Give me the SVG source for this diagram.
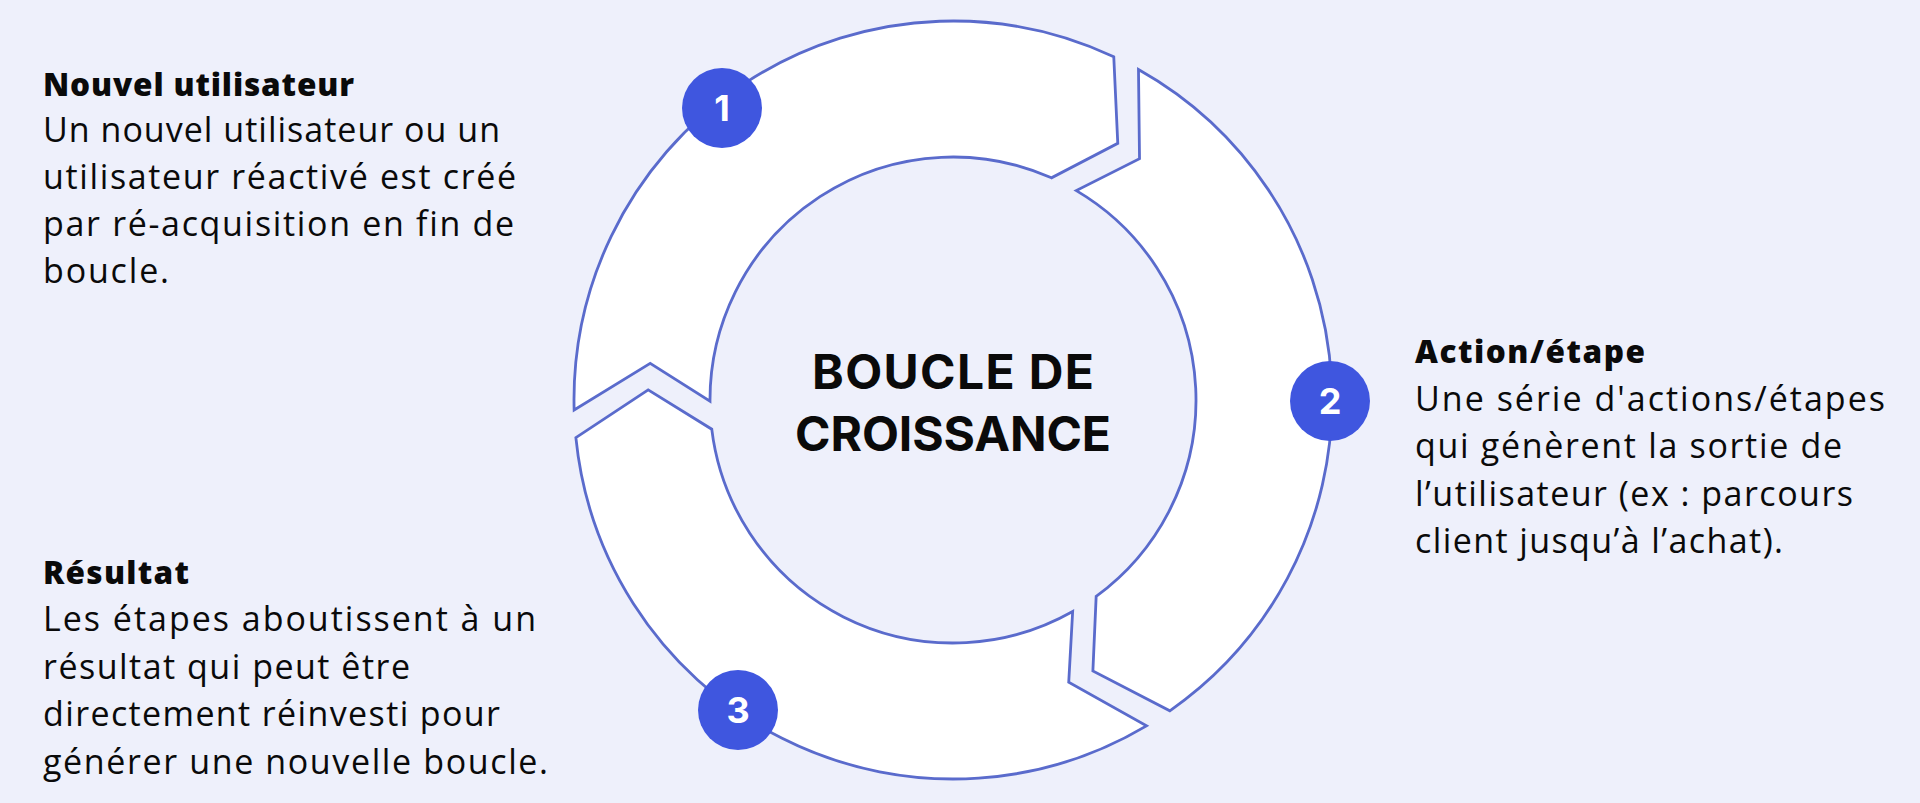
<svg xmlns="http://www.w3.org/2000/svg" width="1920" height="803" viewBox="0 0 1920 803">
  <style>
    .bg { fill: #eef0fb; }
    .seg { fill: #ffffff; stroke: #5a6bcc; stroke-width: 2.8; stroke-linejoin: miter; }
    .badge { fill: #3f56df; }
    .num { font-family: Inter, "Open Sans", "DejaVu Sans", sans-serif; font-weight: 700; font-size: 36px; fill: #ffffff; text-anchor: middle; }
    .title { font-family: Inter, "Open Sans", "DejaVu Sans", sans-serif; font-weight: 700; font-size: 48px; fill: #0a0a0a; text-anchor: middle; }
    .head { font-family: "Open Sans", "Noto Sans", "DejaVu Sans", sans-serif; font-weight: 800; font-size: 31.5px; fill: #0a0a0a; font-variant-ligatures: none; }
    .body { font-family: "Open Sans", "Noto Sans", "DejaVu Sans", sans-serif; font-weight: 400; font-size: 34px; fill: #0a0a0a; font-variant-ligatures: none; }
  </style>
  <rect class="bg" x="0" y="0" width="1920" height="803"/>

  <g id="connectors">
    <path id="arrow-1" class="seg" d="M574.13,409.92 A379,379 0 0 1 1113.77,56.79 L1117.77,143.34 L1051.45,177.84 A243,243 0 0 0 710.00,401.27 L650.21,363.36 Z"/>
    <path id="arrow-2" class="seg" d="M1138.48,69.49 A379,379 0 0 1 1169.84,710.84 L1092.89,671.03 L1096.17,596.34 A243,243 0 0 0 1076.33,190.62 L1139.52,158.68 Z"/>
    <path id="arrow-3" class="seg" d="M1146.50,725.88 A379,379 0 0 1 575.87,437.64 L648.17,389.89 L711.76,429.19 A243,243 0 0 0 1072.66,611.50 L1068.73,682.19 Z"/>
  </g>

  <g id="center-label">
    <text class="title" x="953" y="389" textLength="282">BOUCLE DE</text>
    <text class="title" x="953" y="451" textLength="316">CROISSANCE</text>
  </g>

  <g id="node-1">
    <circle class="badge" cx="722" cy="108" r="40"/>
    <text class="num" x="722" y="121">1</text>
    <text class="head" x="43" y="96" textLength="311">Nouvel utilisateur</text>
    <text class="body" x="43" y="142" textLength="457">Un nouvel utilisateur ou un</text>
    <text class="body" x="43" y="189" textLength="473">utilisateur réactivé est créé</text>
    <text class="body" x="43" y="236" textLength="471">par ré-acquisition en fin de</text>
    <text class="body" x="43" y="283" textLength="126">boucle.</text>
  </g>

  <g id="node-2">
    <circle class="badge" cx="1330" cy="401" r="40"/>
    <text class="num" x="1330" y="414">2</text>
    <text class="head" x="1415" y="363" textLength="230">Action/étape</text>
    <text class="body" x="1415" y="411" textLength="470">Une série d'actions/étapes</text>
    <text class="body" x="1415" y="458" textLength="427">qui génèrent la sortie de</text>
    <text class="body" x="1415" y="506" textLength="438">l’utilisateur (ex : parcours</text>
    <text class="body" x="1415" y="553" textLength="368">client jusqu’à l’achat).</text>
  </g>

  <g id="node-3">
    <circle class="badge" cx="738" cy="710" r="40"/>
    <text class="num" x="738" y="723">3</text>
    <text class="head" x="43" y="584" textLength="146">Résultat</text>
    <text class="body" x="43" y="631" textLength="493">Les étapes aboutissent à un</text>
    <text class="body" x="43" y="679" textLength="367">résultat qui peut être</text>
    <text class="body" x="43" y="726" textLength="457">directement réinvesti pour</text>
    <text class="body" x="43" y="774" textLength="505">générer une nouvelle boucle.</text>
  </g>
</svg>
